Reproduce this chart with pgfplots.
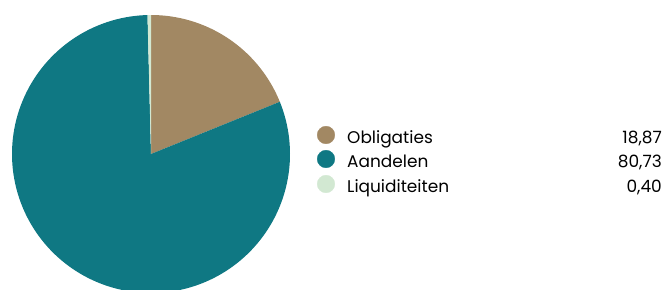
\documentclass[border=0pt]{standalone}
\usepackage{pgfplots}
\pgfplotsset{compat=1.18}
\usepackage{pgfplotstable}
\usepackage{fontspec}
\setmainfont{Poppins}
\definecolor{obl}{HTML}{A28863}
\definecolor{aan}{HTML}{0F7883}
\definecolor{liq}{HTML}{D2E8D2}
\pgfplotstableread{
name value
Obligaties 18.87
Aandelen 80.73
Liquiditeiten 0.40
}\piedata
\pgfplotstablegetelem{0}{value}\of\piedata \let\vA\pgfplotsretval
\pgfplotstablegetelem{1}{value}\of\piedata \let\vB\pgfplotsretval
\pgfplotstablegetelem{2}{value}\of\piedata \let\vC\pgfplotsretval
\pgfmathsetmacro{\aS}{90}
\pgfmathsetmacro{\aA}{90-3.6*\vA}
\pgfmathsetmacro{\aB}{\aA-3.6*\vB}
\pgfmathsetmacro{\aC}{\aB-3.6*\vC}
\begin{document}
\begin{tikzpicture}
\begin{axis}[
  x=1bp, y=1bp,
  xmin=0, xmax=665, ymin=0, ymax=289,
  y dir=reverse,
  hide axis,
  clip=true,
  axis line style={draw=none},
]
\path (axis cs:0,0) (axis cs:665,289);
\addplot[fill=obl, draw=none, domain=\aS:\aA, samples=80, variable=\t]
  ({151+139*cos(\t)},{154-139*sin(\t)}) -- (axis cs:151,154) -- cycle;
\addplot[fill=aan, draw=none, domain=\aA:\aB, samples=240, variable=\t]
  ({151+139*cos(\t)},{154-139*sin(\t)}) -- (axis cs:151,154) -- cycle;
\addplot[fill=liq, draw=none, domain=\aB:\aC, samples=5, variable=\t]
  ({151+139*cos(\t)},{154-139*sin(\t)}) -- (axis cs:151,154) -- cycle;
\addplot[only marks, mark=*, mark size=8.8pt, color=obl] coordinates {(326,135)};
\addplot[only marks, mark=*, mark size=8.8pt, color=aan] coordinates {(326,159)};
\addplot[only marks, mark=*, mark size=8.8pt, color=liq] coordinates {(326,184)};
\node[anchor=base west, inner sep=0pt, font=\fontsize{17}{20}\selectfont] at (axis cs:347,143) {Obligaties};
\node[anchor=base west, inner sep=0pt, font=\fontsize{17}{20}\selectfont] at (axis cs:347,167.5) {Aandelen};
\node[anchor=base west, inner sep=0pt, font=\fontsize{17}{20}\selectfont] at (axis cs:347,192) {Liquiditeiten};
\node[anchor=base east, inner sep=0pt, font=\fontsize{17}{20}\selectfont] at (axis cs:662,143) {18,87};
\node[anchor=base east, inner sep=0pt, font=\fontsize{17}{20}\selectfont] at (axis cs:662,167.5) {80,73};
\node[anchor=base east, inner sep=0pt, font=\fontsize{17}{20}\selectfont] at (axis cs:662,192) {0,40};
\end{axis}
\end{tikzpicture}
\end{document}
